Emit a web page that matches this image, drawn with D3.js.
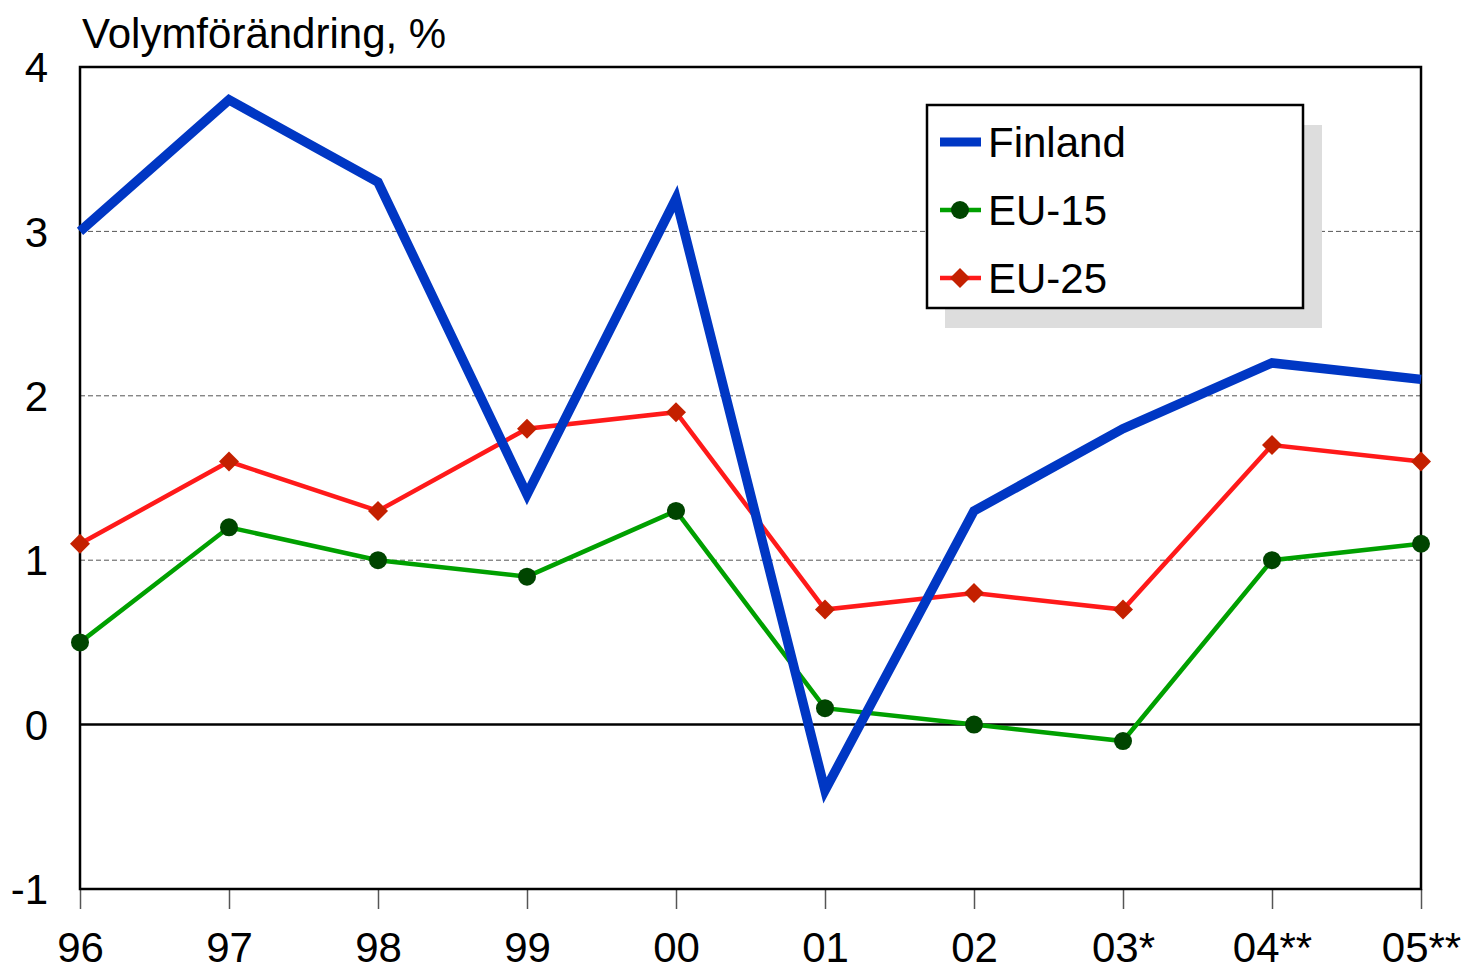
<!DOCTYPE html>
<html>
<head>
<meta charset="utf-8">
<script src="https://cdn.jsdelivr.net/npm/d3@7"></script>
<style>
  body { margin: 0; background: #fff; }
  text { font-family: "Liberation Sans", Arial, sans-serif; fill: #000; }
</style>
</head>
<body>
<svg id="chart" width="1466" height="970"></svg>
<script>
const years = ["96", "97", "98", "99", "00", "01", "02", "03*", "04**", "05**"];
const finland = [3.0, 3.8, 3.3, 1.4, 3.2, -0.4, 1.3, 1.8, 2.2, 2.1];
const eu15 = [0.5, 1.2, 1.0, 0.9, 1.3, 0.1, 0.0, -0.1, 1.0, 1.1];
const eu25 = [1.1, 1.6, 1.3, 1.8, 1.9, 0.7, 0.8, 0.7, 1.7, 1.6];
const yTicks = [-1, 0, 1, 2, 3, 4];
const gridValues = [1, 2, 3];

const margin = { left: 80, right: 45, top: 67, bottom: 81 };
const width = 1466 - margin.left - margin.right;
const height = 970 - margin.top - margin.bottom;
const fontSize = 42;

const svg = d3.select("#chart");
const g = svg.append("g").attr("transform", `translate(${margin.left}, ${margin.top})`);

const x = d3.scalePoint().domain(years).range([0, width]).padding(0);
const y = d3.scaleLinear().domain([-1, 4]).range([height, 0]);

// dashed gridlines
g.selectAll(".grid")
  .data(gridValues)
  .enter()
  .append("line")
  .attr("x1", 0)
  .attr("x2", width)
  .attr("y1", d => y(d))
  .attr("y2", d => y(d))
  .attr("stroke", "#555")
  .attr("stroke-width", 1)
  .attr("stroke-dasharray", "5,3");

// zero line
g.append("line")
  .attr("x1", 0)
  .attr("x2", width)
  .attr("y1", y(0))
  .attr("y2", y(0))
  .attr("stroke", "#000")
  .attr("stroke-width", 2.5);

// x axis ticks + labels
const xAxis = d3.axisBottom(x).tickSize(20);
const xg = g.append("g").attr("transform", `translate(0, ${height})`).call(xAxis);
xg.select(".domain").remove();
xg.selectAll(".tick line").attr("stroke", "#555").attr("stroke-width", 1.5);
xg.selectAll(".tick text")
  .attr("font-size", fontSize)
  .attr("y", 73)
  .attr("dy", 0);

// y axis labels (plain hyphen for negatives, like the original)
const yAxis = d3.axisLeft(y).tickValues(yTicks).tickFormat(d => String(d)).tickSize(0).tickPadding(32);
const yg = g.append("g").call(yAxis);
yg.select(".domain").remove();
yg.selectAll(".tick text").attr("font-size", fontSize).attr("dy", "0.35em");

// frame
g.append("rect")
  .attr("width", width)
  .attr("height", height)
  .attr("fill", "none")
  .attr("stroke", "#000")
  .attr("stroke-width", 2.5);

// title
svg.append("text")
  .attr("x", 82)
  .attr("y", 48)
  .attr("font-size", fontSize)
  .text("Volymförändring, %");

const line = d3.line().x((d, i) => x(years[i])).y(d => y(d));

g.append("path")
  .attr("d", line(eu25))
  .attr("fill", "none")
  .attr("stroke", "#ff1a1a")
  .attr("stroke-width", 4.5);

g.append("path")
  .attr("d", line(eu15))
  .attr("fill", "none")
  .attr("stroke", "#00a000")
  .attr("stroke-width", 4.5);

g.append("path")
  .attr("d", line(finland))
  .attr("fill", "none")
  .attr("stroke", "#0037c4")
  .attr("stroke-width", 9.5)
  .attr("stroke-linejoin", "miter");

const diamond = d3.symbol().type(d3.symbolSquare).size(200);
g.selectAll(".eu25")
  .data(eu25)
  .enter()
  .append("path")
  .attr("d", diamond)
  .attr("transform", (d, i) => `translate(${x(years[i])}, ${y(d)}) rotate(45)`)
  .attr("fill", "#c42000");

g.selectAll(".eu15")
  .data(eu15)
  .enter()
  .append("circle")
  .attr("cx", (d, i) => x(years[i]))
  .attr("cy", d => y(d))
  .attr("r", 9)
  .attr("fill", "#004500");

// legend
const legend = svg.append("g").attr("transform", "translate(927, 105)");
legend.append("rect")
  .attr("x", 18).attr("y", 20)
  .attr("width", 377).attr("height", 203)
  .attr("fill", "#dddddd");
legend.append("rect")
  .attr("width", 376).attr("height", 203)
  .attr("fill", "#fff")
  .attr("stroke", "#000")
  .attr("stroke-width", 2.5);

const items = [
  { name: "Finland", color: "#0037c4", width: 9, marker: null },
  { name: "EU-15", color: "#00a000", width: 4.5, marker: "circle" },
  { name: "EU-25", color: "#ff1a1a", width: 4.5, marker: "diamond" }
];
items.forEach((it, i) => {
  const cy = 37 + i * 68;
  legend.append("line")
    .attr("x1", 13).attr("x2", 54)
    .attr("y1", cy).attr("y2", cy)
    .attr("stroke", it.color)
    .attr("stroke-width", it.width);
  if (it.marker === "circle") {
    legend.append("circle").attr("cx", 33).attr("cy", cy).attr("r", 9).attr("fill", "#004500");
  } else if (it.marker === "diamond") {
    legend.append("path").attr("d", diamond)
      .attr("transform", `translate(33, ${cy}) rotate(45)`)
      .attr("fill", "#c42000");
  }
  legend.append("text")
    .attr("x", 61).attr("y", cy)
    .attr("dy", "0.35em")
    .attr("font-size", fontSize)
    .text(it.name);
});
</script>
</body>
</html>
